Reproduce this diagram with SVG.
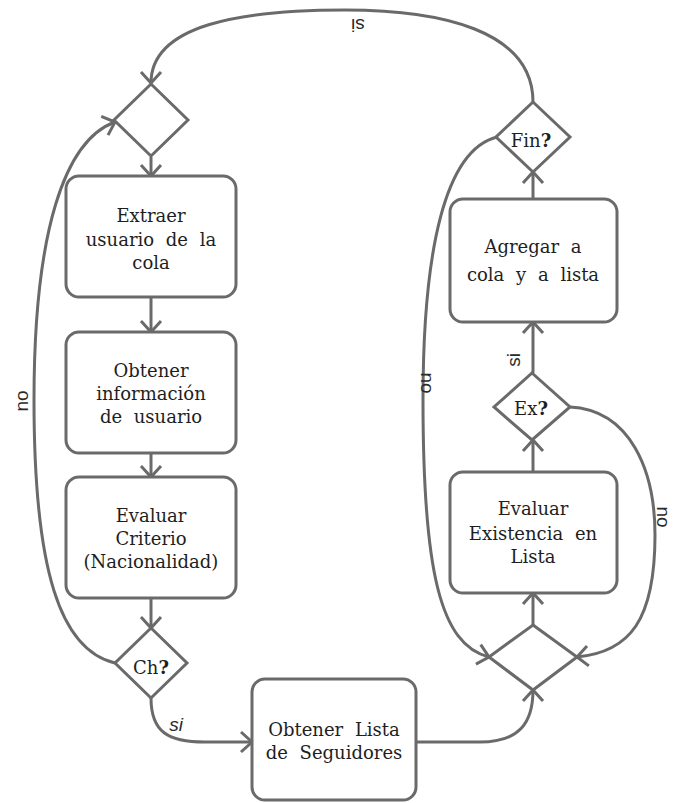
<svg xmlns="http://www.w3.org/2000/svg" width="674" height="803" viewBox="0 0 674 803">
<style>
.box{fill:#fff;stroke:#6a6a6a;stroke-width:3}
.dia{fill:#fff;stroke:#6a6a6a;stroke-width:3}
.t{font-family:"DejaVu Serif","Liberation Serif",serif;font-size:18px;fill:#1e1e1e;text-anchor:middle;word-spacing:6px}
.q{font-weight:bold}
.e{fill:none;stroke:#6a6a6a;stroke-width:3;marker-end:url(#arr)}
.lb{font-family:"Liberation Sans","DejaVu Sans",sans-serif;font-size:19px;fill:#2a2a2a;text-anchor:middle}
</style>
<defs>
<marker id="arr" markerUnits="userSpaceOnUse" markerWidth="30" markerHeight="30" refX="0" refY="0" viewBox="-15 -15 30 30" orient="auto" overflow="visible">
<path d="M-11,-10 L0,0 L-11,10" fill="none" stroke="#6a6a6a" stroke-width="3"/>
</marker>
</defs>
<rect width="674" height="803" fill="#fff"/>
<g id="connectors">
<path class="e" d="M533,102 C533,30 440,10 345,10 C240,10 151,25 151,83"/>
<path class="e" d="M151,157 L151,176"/>
<path class="e" d="M151,297 L151,332"/>
<path class="e" d="M151,453 L151,477"/>
<path class="e" d="M151,598 L151,628"/>
<path class="e" d="M115,663 C60,650 34,570 34,400 C34,230 65,140 115,122"/>
<path class="e" d="M151,698 C151,732 168,742 205,742 L252,742"/>
<path class="e" d="M416,742 L480,742 C520,742 533,722 533,690"/>
<path class="e" d="M533,625 L533,593"/>
<path class="e" d="M533,472 L533,440"/>
<path class="e" d="M533,373 L533,322"/>
<path class="e" d="M533,199 L533,172"/>
<path class="e" d="M497,137 C445,150 423,250 423,400 C423,570 440,645 489,657"/>
<path class="e" d="M570,407 C630,410 655,470 655,535 C655,620 630,652 577,657"/>
<text class="lb" transform="translate(358,26) rotate(180)" dy="7">si</text>
<text class="lb" transform="translate(21,401) rotate(-90)" dy="7">no</text>
<text class="lb" transform="translate(428,383) rotate(90)" dy="7">no</text>
<text class="lb" transform="translate(664,517) rotate(90)" dy="7">no</text>
<text class="lb" transform="translate(513,360) rotate(-90)" dy="7">si</text>
<text class="lb" x="176" y="731" font-style="italic">si</text>
</g>
<g id="merge1"><polygon class="dia" points="151,84 188,120 151,156 114,120"/></g>
<g id="extraer"><rect class="box" x="66" y="176" width="170" height="121" rx="13"/>
<text class="t" x="151" y="222">Extraer</text><text class="t" x="151" y="246">usuario de la</text><text class="t" x="151" y="269">cola</text></g>
<g id="obtener-info"><rect class="box" x="66" y="332" width="170" height="121" rx="13"/>
<text class="t" x="151" y="377">Obtener</text><text class="t" x="151" y="400">información</text><text class="t" x="151" y="423">de usuario</text></g>
<g id="evaluar-criterio"><rect class="box" x="66" y="477" width="170" height="121" rx="13"/>
<text class="t" x="151" y="522">Evaluar</text><text class="t" x="151" y="545">Criterio</text><text class="t" x="151" y="568">(Nacionalidad)</text></g>
<g id="ch"><polygon class="dia" points="151,628 187,663 151,698 115,663"/>
<text class="t" x="151" y="674">Ch<tspan class="q">?</tspan></text></g>
<g id="obtener-lista"><rect class="box" x="252" y="679" width="164" height="121" rx="13"/>
<text class="t" x="334" y="736">Obtener Lista</text><text class="t" x="334" y="759">de Seguidores</text></g>
<g id="merge2"><polygon class="dia" points="533,625 577,657 533,690 489,657"/></g>
<g id="evaluar-existencia"><rect class="box" x="450" y="472" width="167" height="121" rx="13"/>
<text class="t" x="533" y="515">Evaluar</text><text class="t" x="533" y="540">Existencia en</text><text class="t" x="533" y="563">Lista</text></g>
<g id="ex"><polygon class="dia" points="532,373 570,407 532,440 494,407"/>
<text class="t" x="531" y="415">Ex<tspan class="q">?</tspan></text></g>
<g id="agregar"><rect class="box" x="450" y="199" width="167" height="123" rx="13"/>
<text class="t" x="533" y="253">Agregar a</text><text class="t" x="533" y="281">cola y a lista</text></g>
<g id="fin"><polygon class="dia" points="533,102 570,137 533,172 496,137"/>
<text class="t" x="531" y="147">Fin<tspan class="q">?</tspan></text></g>
</svg>
